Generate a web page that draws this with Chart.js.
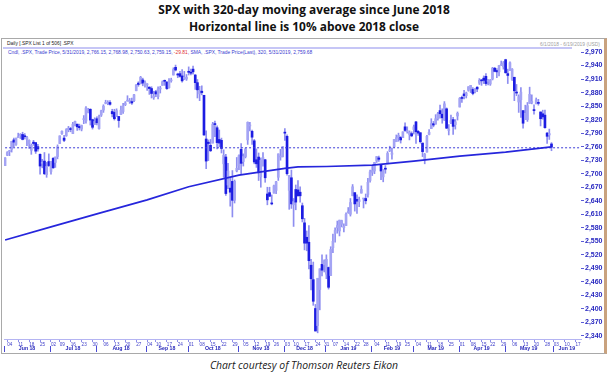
<!DOCTYPE html>
<html>
<head>
<meta charset="utf-8">
<script src="https://cdn.jsdelivr.net/npm/chart.js@4.4.1/dist/chart.umd.min.js"></script>
<style>
  html, body { margin: 0; padding: 0; background: #fff; }
  body { width: 608px; height: 379px; position: relative; overflow: hidden; font-family: 'Open Sans', sans-serif; }
  .title { position: absolute; left: 0; top: 1px; width: 608px; text-align: center; font-weight: 700; font-size: 11.9px; line-height: 17px; color: #111; }
  .panel { position: absolute; left: 1px; top: 38px; width: 606px; height: 316px; box-sizing: border-box;
           border: 1px solid #a9a9a9; border-right: 3px solid #c9a27e; }
  .hdr { position: absolute; white-space: nowrap; font-family: 'Liberation Sans', sans-serif; font-size: 4.9px; line-height: 5px; }
  #h1 { left: 7px; top: 41px; color: #222; }
  #band { position: absolute; left: 3px; top: 47px; width: 569px; height: 2px; background: #c6c6f6; }
  #h2 { left: 8px; top: 49.5px; color: #3a3ad0; }
  #h2 .neg { color: #e03030; }
  #range { left: 500px; top: 42px; width: 100px; text-align: right; color: #a0a0a0; }
  #chart { position: absolute; left: 3px; top: 38px; }
  .caption { position: absolute; left: 0; top: 358px; width: 608px; text-align: center; font-style: italic; font-size: 10.4px; line-height: 15px; color: #222; }
</style>
</head>
<body>
<div class="title">SPX with 320-day moving average since June 2018<br>Horizontal line is 10% above 2018 close</div>
<div class="panel"></div>
<div class="hdr" id="h1">Daily [.SPX List 1 of 506] .SPX</div>
<div id="band"></div>
<div class="hdr" id="h2">Cndl, .SPX, Trade Price, 5/31/2019, 2,766.15, 2,768.98, 2,750.63, 2,759.15, <span class="neg">-29.81</span>, SMA, .SPX, Trade Price(Last), 320, 5/31/2019, 2,759.68</div>
<div class="hdr" id="range">6/1/2018 - 6/19/2019 (USD)</div>
<canvas id="chart" width="601" height="314"></canvas>
<div class="caption">Chart courtesy of Thomson Reuters Eikon</div>

<script>
// daily candles [open, high, low, close], one array per month
const jun18 = [[2718,2736,2718,2735],[2741,2749,2740,2747],[2749,2752,2740,2749],[2754,2772,2748,2772],[2775,2779,2760,2770],[2765,2779,2763,2779],[2780,2790,2780,2782],[2785,2789,2778,2787],[2787,2792,2775,2776],[2784,2789,2777,2782],[2777,2783,2762,2780],[2766,2775,2756,2774],[2752,2766,2743,2763],[2770,2774,2763,2767],[2769,2769,2745,2750],[2760,2765,2750,2755],[2743,2744,2699,2717],[2723,2732,2713,2723],[2728,2747,2698,2700],[2698,2725,2692,2716],[2727,2744,2716,2718]];
const jul18 = [[2705,2727,2699,2727],[2734,2736,2712,2713],[2725,2737,2714,2737],[2738,2764,2733,2760],[2767,2784,2767,2784],[2789,2795,2787,2794],[2779,2785,2771,2774],[2784,2800,2783,2798],[2797,2805,2793,2801],[2799,2803,2793,2798],[2789,2814,2789,2810],[2811,2817,2806,2816],[2810,2810,2796,2804],[2805,2810,2797,2802],[2799,2808,2795,2807],[2820,2829,2811,2820],[2817,2849,2812,2846],[2836,2845,2835,2837],[2843,2844,2808,2819],[2820,2821,2799,2803],[2809,2824,2809,2816]];
const aug18 = [[2822,2826,2808,2813],[2800,2830,2799,2827],[2830,2841,2827,2840],[2841,2853,2836,2850],[2856,2863,2855,2858],[2856,2862,2853,2858],[2858,2862,2852,2854],[2838,2843,2826,2833],[2836,2843,2819,2822],[2827,2844,2827,2840],[2827,2827,2803,2818],[2831,2850,2831,2841],[2838,2856,2834,2850],[2853,2860,2851,2857],[2861,2873,2861,2863],[2860,2867,2856,2862],[2860,2868,2854,2857],[2862,2876,2860,2875],[2884,2898,2884,2897],[2901,2904,2894,2898],[2900,2916,2899,2914],[2908,2912,2895,2901],[2898,2906,2892,2902]];
const sep18 = [[2897,2900,2885,2897],[2892,2893,2876,2889],[2889,2893,2868,2878],[2869,2883,2865,2872],[2882,2885,2871,2877],[2871,2893,2866,2888],[2888,2894,2879,2889],[2896,2906,2896,2904],[2906,2908,2896,2905],[2903,2905,2887,2889],[2891,2911,2890,2904],[2906,2912,2903,2908],[2919,2935,2919,2931],[2936,2941,2928,2930],[2921,2923,2913,2919],[2922,2927,2914,2916],[2917,2931,2903,2906],[2911,2927,2909,2914],[2910,2920,2907,2914]];
const oct18 = [[2926,2937,2919,2925],[2924,2932,2919,2923],[2932,2939,2921,2926],[2919,2920,2887,2902],[2902,2909,2868,2886],[2877,2894,2862,2884],[2883,2895,2875,2880],[2874,2874,2785,2786],[2777,2795,2711,2728],[2770,2775,2729,2767],[2763,2776,2749,2751],[2768,2814,2768,2810],[2811,2817,2782,2809],[2802,2806,2755,2769],[2776,2797,2760,2768],[2774,2779,2746,2756],[2722,2753,2692,2741],[2737,2743,2652,2656],[2675,2723,2667,2706],[2668,2693,2628,2659],[2683,2707,2604,2641],[2641,2686,2635,2683],[2706,2736,2704,2712]];
const nov18 = [[2718,2742,2709,2740],[2754,2767,2700,2723],[2727,2744,2717,2738],[2738,2757,2735,2755],[2775,2815,2765,2814],[2806,2814,2795,2807],[2794,2797,2765,2781],[2773,2776,2722,2726],[2731,2755,2714,2722],[2737,2746,2685,2702],[2693,2735,2670,2730],[2719,2747,2717,2736],[2731,2732,2681,2691],[2655,2670,2631,2642],[2658,2670,2649,2650],[2634,2653,2631,2633],[2657,2675,2657,2673],[2663,2683,2656,2682],[2692,2744,2685,2744],[2737,2754,2730,2738],[2738,2760,2737,2760]];
const dec18 = [[2791,2800,2774,2790],[2783,2786,2697,2700],[2663,2696,2621,2696],[2691,2708,2623,2633],[2631,2645,2583,2638],[2665,2675,2620,2637],[2664,2685,2650,2651],[2659,2671,2637,2651],[2629,2635,2593,2600],[2591,2601,2531,2546],[2559,2573,2529,2546],[2548,2585,2489,2507],[2497,2510,2442,2467],[2465,2504,2408,2417],[2401,2410,2351,2351],[2363,2468,2347,2468],[2443,2489,2398,2489],[2499,2520,2473,2486],[2498,2509,2482,2507]];
const jan19 = [[2477,2520,2467,2510],[2492,2493,2444,2448],[2474,2538,2474,2532],[2536,2566,2525,2550],[2568,2580,2548,2574],[2580,2595,2568,2585],[2573,2597,2562,2597],[2588,2597,2582,2596],[2580,2589,2571,2583],[2585,2613,2585,2610],[2614,2625,2612,2616],[2610,2645,2606,2636],[2651,2676,2651,2671],[2658,2658,2617,2633],[2643,2653,2612,2639],[2638,2648,2627,2642],[2657,2673,2657,2665],[2644,2645,2624,2644],[2645,2655,2633,2640],[2654,2690,2648,2681],[2685,2708,2681,2704]];
const feb19 = [[2703,2717,2696,2707],[2706,2725,2700,2725],[2728,2738,2725,2738],[2735,2739,2727,2732],[2719,2719,2687,2706],[2693,2709,2682,2708],[2712,2718,2701,2710],[2722,2749,2722,2745],[2751,2761,2749,2753],[2743,2757,2732,2746],[2760,2776,2758,2776],[2771,2786,2771,2780],[2780,2790,2772,2785],[2781,2782,2768,2775],[2780,2793,2780,2793],[2804,2813,2794,2796],[2793,2804,2790,2794],[2787,2795,2775,2792],[2789,2793,2782,2784]];
const mar19 = [[2798,2808,2788,2804],[2815,2816,2767,2793],[2794,2796,2785,2790],[2791,2791,2768,2771],[2768,2768,2738,2749],[2731,2745,2722,2743],[2748,2785,2748,2783],[2787,2798,2786,2792],[2800,2822,2800,2811],[2811,2816,2804,2808],[2810,2831,2810,2822],[2822,2836,2819,2833],[2840,2852,2823,2833],[2832,2844,2812,2824],[2819,2860,2818,2855],[2844,2846,2800,2801],[2796,2809,2786,2798],[2813,2830,2811,2818],[2820,2825,2787,2805],[2809,2820,2799,2815],[2828,2837,2819,2834]];
const apr19 = [[2848,2869,2848,2867],[2868,2872,2858,2867],[2877,2885,2866,2873],[2873,2881,2868,2879],[2885,2893,2883,2893],[2889,2896,2880,2896],[2887,2891,2875,2878],[2882,2889,2879,2888],[2892,2893,2882,2888],[2901,2911,2898,2907],[2908,2909,2896,2906],[2912,2917,2900,2907],[2916,2922,2896,2900],[2905,2909,2897,2905],[2899,2909,2896,2908],[2910,2936,2908,2934],[2934,2936,2926,2927],[2929,2933,2913,2926],[2926,2940,2917,2940],[2941,2950,2940,2943],[2937,2949,2932,2946]];
const may19 = [[2953,2954,2923,2924],[2922,2932,2900,2918],[2929,2948,2929,2946],[2909,2933,2907,2932],[2914,2914,2862,2884],[2880,2898,2873,2879],[2859,2875,2836,2871],[2864,2891,2825,2881],[2840,2840,2801,2812],[2820,2852,2820,2834],[2820,2858,2816,2851],[2856,2892,2856,2876],[2858,2875,2855,2860],[2841,2853,2832,2840],[2855,2868,2855,2864],[2857,2865,2852,2856],[2837,2837,2806,2822],[2833,2841,2821,2826],[2830,2841,2801,2802],[2790,2792,2767,2783],[2786,2799,2776,2789],[2766,2769,2751,2759]];
const candleMonths = [jun18, jul18, aug18, sep18, oct18, nov18, dec18, jan19, feb19, mar19, apr19, may19];

// 320-day SMA at a handful of dates
const smaDates  = ['2018-06-01','2018-07-02','2018-08-01','2018-09-04','2018-10-01','2018-11-01','2018-12-03','2018-12-12','2019-01-02','2019-02-01','2019-03-01','2019-04-01','2019-05-01','2019-05-31'];
const smaValues = [2553, 2582, 2611, 2642, 2671, 2697, 2712, 2715, 2716, 2719, 2728, 2739, 2748, 2759.7];

const refLevel = 2757.5; // 10% above 2018 close
const yTicks = [2340, 2370, 2400, 2430, 2460, 2490, 2520, 2550, 2580, 2610, 2640, 2670, 2700, 2730, 2760, 2790, 2820, 2850, 2880, 2910, 2940, 2970];
const monthNames = ['Jun 18', 'Jul 18', 'Aug 18', 'Sep 18', 'Oct 18', 'Nov 18', 'Dec 18', 'Jan 19', 'Feb 19', 'Mar 19', 'Apr 19', 'May 19', 'Jun 19'];
const holidays = ['2018-07-04', '2018-09-03', '2018-11-22', '2018-12-05', '2018-12-25', '2019-01-01', '2019-01-21', '2019-02-18', '2019-04-19', '2019-05-27'];

// trading days from 6/1/2018 to 6/19/2019
const dates = [];
for (let t = Date.UTC(2018, 5, 1); t <= Date.UTC(2019, 5, 19); t += 86400000) {
  const d = new Date(t);
  const iso = d.toISOString().slice(0, 10);
  if (d.getUTCDay() === 0 || d.getUTCDay() === 6 || holidays.includes(iso)) continue;
  dates.push(iso);
}
const dow = s => new Date(s).getUTCDay();
const weekStart = dates.map((d, i) => i > 0 && dow(d) < dow(dates[i - 1]));
const monthStarts = dates.map((d, i) => i).filter(i => i === 0 || dates[i].slice(0, 7) !== dates[i - 1].slice(0, 7));

const candles = candleMonths.flat();
const wicks = dates.map((d, i) => candles[i] ? [candles[i][2], candles[i][1]] : null);
const bodies = dates.map((d, i) => candles[i] ? [candles[i][0], candles[i][3]] : null);

const monthAxis = {
  id: 'monthAxis',
  afterDraw(chart) {
    const { ctx, scales: { x } } = chart;
    ctx.save();
    ctx.font = 'bold 5.2px "Liberation Sans"';
    ctx.fillStyle = '#1e1eb8';
    ctx.strokeStyle = '#4a4ad4';
    ctx.lineWidth = 1;
    ctx.textAlign = 'center';
    ctx.textBaseline = 'middle';
    monthStarts.forEach((start, m) => {
      const next = monthStarts[m + 1];
      const x0 = x.getPixelForValue(start) - 1;
      const x1 = next !== undefined ? x.getPixelForValue(next) - 1 : x.right;
      const lx = Math.round(x0) + 0.5;
      ctx.beginPath();
      ctx.moveTo(lx, x.top + 7);
      ctx.lineTo(lx, x.bottom);
      ctx.stroke();
      ctx.fillText(monthNames[m], (x0 + x1) / 2, x.top + 10);
    });
    ctx.restore();
  }
};

new Chart(document.getElementById('chart'), {
  type: 'bar',
  data: {
    labels: dates,
    datasets: [
      {
        type: 'line',
        data: smaDates.map((d, i) => ({ x: d, y: smaValues[i] })),
        borderColor: '#2626dc',
        borderWidth: 1.7,
        pointRadius: 0,
        order: 0
      },
      {
        type: 'line',
        data: [{ x: dates[0], y: refLevel }, { x: dates[dates.length - 1], y: refLevel }],
        borderColor: '#3c3cd8',
        borderWidth: 1,
        borderDash: [2, 2],
        pointRadius: 0,
        order: 1
      },
      {
        data: wicks,
        backgroundColor: '#8e8ef0',
        barThickness: 1,
        grouped: false,
        order: 3
      },
      {
        data: bodies,
        backgroundColor: bodies.map(b => b && b[1] < b[0] ? '#1c1ce2' : '#a4a4f4'),
        barThickness: 2,
        minBarLength: 1,
        grouped: false,
        order: 2
      }
    ]
  },
  options: {
    responsive: false,
    animation: false,
    layout: { padding: { left: 1, top: 10, right: 0, bottom: 0 } },
    plugins: { legend: { display: false }, tooltip: { enabled: false } },
    scales: {
      x: {
        offset: true,
        ticks: {
          autoSkip: false,
          maxRotation: 0,
          align: 'start',
          padding: 0,
          color: '#3c3cc8',
          font: { size: 4.6, family: 'Liberation Sans' },
          callback: (v, i) => weekStart[i] ? dates[i].slice(8) : ''
        },
        grid: {
          offset: false,
          drawOnChartArea: false,
          tickLength: 3,
          color: c => weekStart[c.index] ? '#8c8cec' : 'rgba(0,0,0,0)'
        },
        border: { color: '#b4b4f2', width: 1 },
        afterFit: s => { s.height = 13; }
      },
      y: {
        position: 'right',
        min: 2333.3,
        max: 2978.9,
        afterBuildTicks: s => { s.ticks = yTicks.map(v => ({ value: v })); },
        ticks: {
          padding: 1,
          color: '#2828c0',
          font: { size: 7, weight: 'bold', family: 'Liberation Sans' },
          callback: v => v.toLocaleString('en-US')
        },
        grid: { drawOnChartArea: false, tickLength: 3, color: '#5a5ad8' },
        border: { display: false },
        afterFit: s => { s.width = 23; }
      }
    }
  },
  plugins: [monthAxis]
});
</script>
</body>
</html>
